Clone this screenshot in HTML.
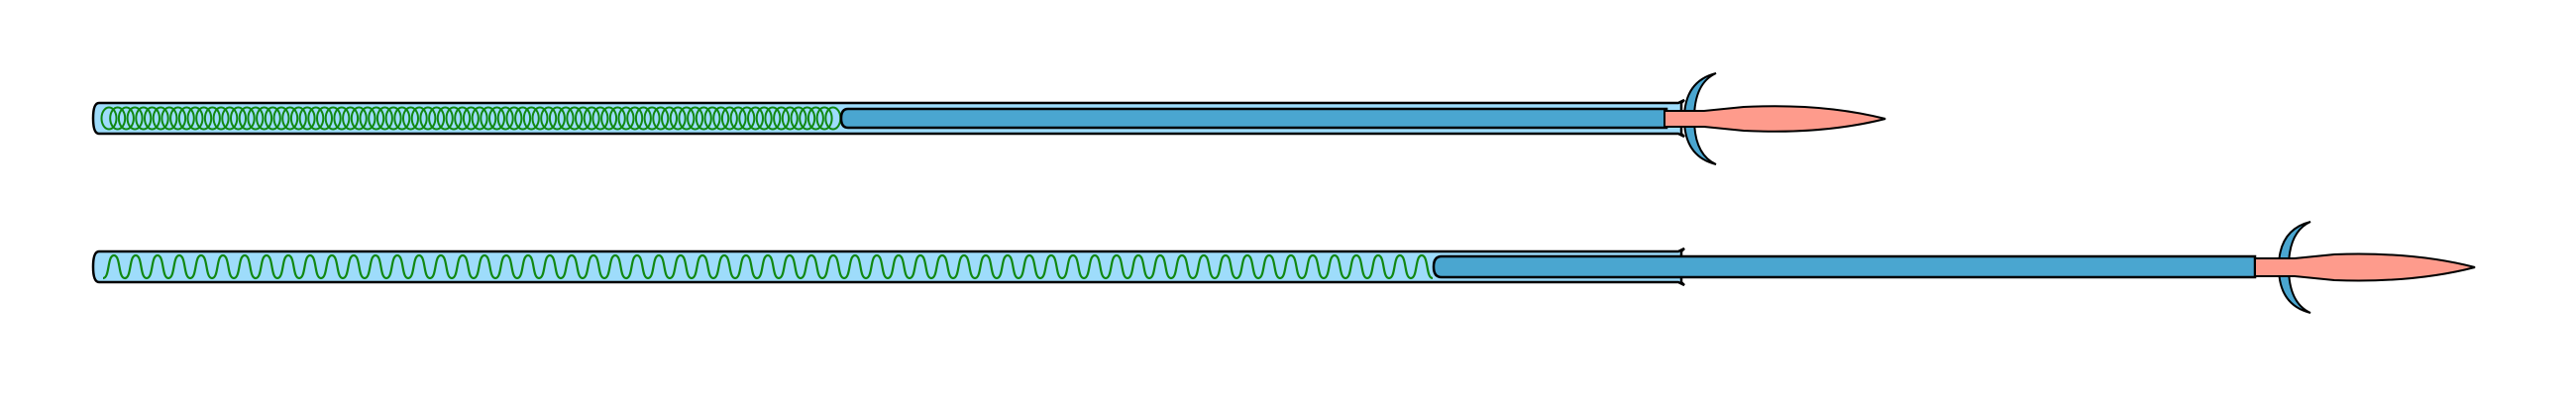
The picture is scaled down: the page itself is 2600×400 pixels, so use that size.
<!DOCTYPE html>
<html><head><meta charset="utf-8"><style>html,body{margin:0;padding:0;background:#fff;width:2600px;height:400px;overflow:hidden}</style></head>
<body>
<svg id="s" width="2600" height="400" xmlns="http://www.w3.org/2000/svg">
<!-- TOP -->
<path d="M100,104 L1694,104 L1700,101 L1697,104 L1697,135 L1700,138 L1694,135 L100,135 Q94,135 94,119.5 Q94,104 100,104 Z" fill="#9edcfb" stroke="#000" stroke-width="2.5"/>
<g id="loops" fill="none" stroke="#118811" stroke-width="2"></g>
<path d="M856,110 L1682,110 L1682,129 L856,129 Q849,129 849,119.5 Q849,110 856,110 Z" fill="#4aa6d0" stroke="#000" stroke-width="2.5"/>
<path d="M1732,74 Q1700,82 1700,120 Q1700,158 1732,166 Q1710,156 1710,120 Q1710,84 1732,74 Z" fill="#4aa6d0" stroke="#000" stroke-width="2"/>
<path d="M1680,112 L1720,112 Q1740,110 1760,108 Q1840,104 1903,120 Q1840,136 1760,132 Q1740,130 1720,128 L1680,128 Z" fill="#fe9b8c" stroke="#000" stroke-width="2"/>
<!-- BOTTOM -->
<path d="M100,254 L1694,254 L1700,251 L1697,254 L1697,285 L1700,288 L1694,285 L100,285 Q94,285 94,269.5 Q94,254 100,254 Z" fill="#9edcfb" stroke="#000" stroke-width="2.5"/>
<path id="wave" fill="none" stroke="#118811" stroke-width="2.2"/>
<path d="M1455,259 L2276,259 L2276,280 L1455,280 Q1447,280 1447,269.5 Q1447,259 1455,259 Z" fill="#4aa6d0" stroke="#000" stroke-width="2.5"/>
<path d="M2332,224 Q2300,232 2300,270 Q2300,308 2332,316 Q2310,306 2310,270 Q2310,234 2332,224 Z" fill="#4aa6d0" stroke="#000" stroke-width="2"/>
<path d="M2276,261 L2316,261 Q2336,259 2356,257 Q2436,254 2498,270 Q2436,286 2356,283 Q2336,281 2316,279 L2276,279 Z" fill="#fe9b8c" stroke="#000" stroke-width="2"/>
</svg>
<script>
var ns="http://www.w3.org/2000/svg",g=document.getElementById("loops");
for(var x=110;x<=843;x+=8.7){var e=document.createElementNS(ns,"ellipse");e.setAttribute("cx",x);e.setAttribute("cy",119.5);e.setAttribute("rx",7.5);e.setAttribute("ry",11);g.appendChild(e);}
var d="M104,281",p=22;
for(var x=104;x+p<=1450;x+=p){d+=" C"+(x+7)+",281 "+(x+4)+",258 "+(x+11)+",258 C"+(x+18)+",258 "+(x+15)+",281 "+(x+22)+",281";}
document.getElementById("wave").setAttribute("d",d);
</script>
</body></html>
